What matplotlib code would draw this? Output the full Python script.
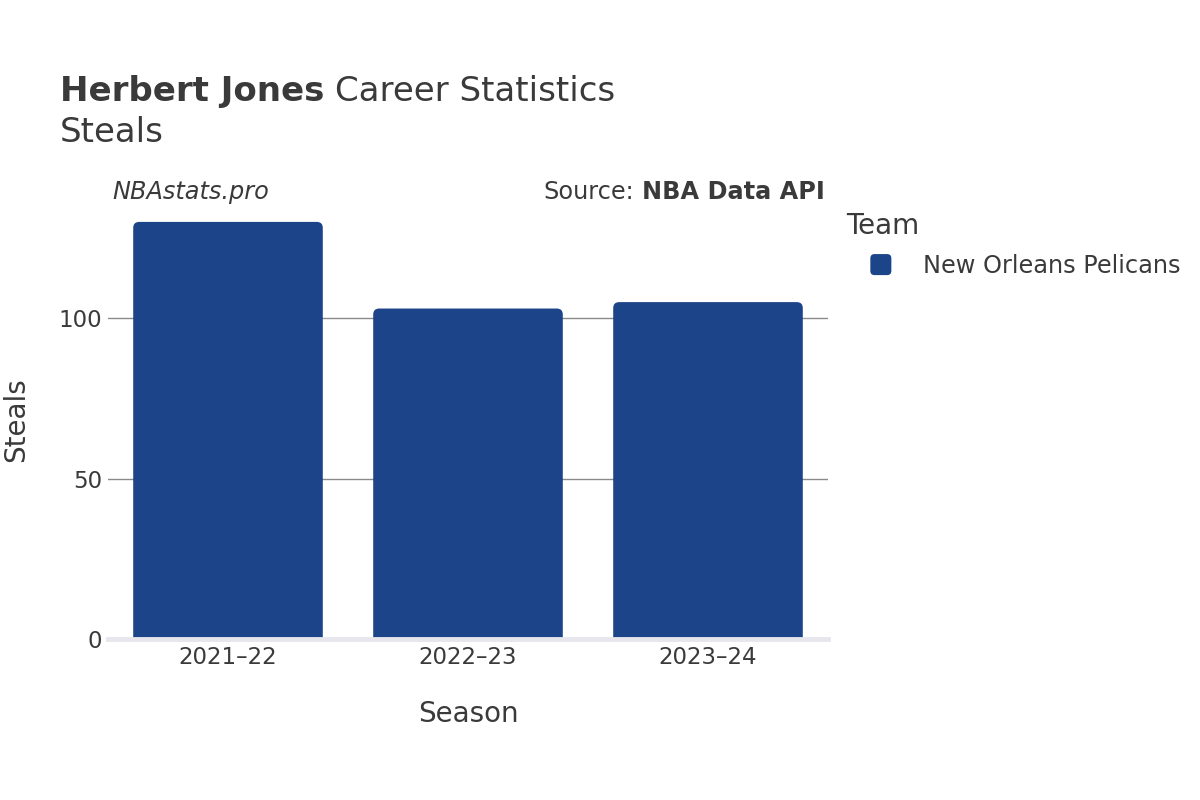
import matplotlib
matplotlib.use("Agg")
import matplotlib.pyplot as plt
from matplotlib.patches import FancyBboxPatch
from matplotlib.legend_handler import HandlerPatch
from matplotlib.patches import Patch

seasons = ["2021–22", "2022–23", "2023–24"]
steals = [130, 103, 105]
team = "New Orleans Pelicans"
bar_color = "#1c4488"
text_color = "#3a3a3a"

plt.rcParams["font.family"] = ["DejaVu Sans"]

fig = plt.figure(figsize=(12, 8), dpi=100)
ax = fig.add_axes([0.09, 0.20125, 0.60, 0.54875])

x = list(range(len(seasons)))
ax.set_xlim(-0.5, len(seasons) - 0.5)
ymax = max(steals) * 1.0525
ax.set_ylim(0, ymax)

# rounded bars: corner radius in px converted to data units
px_x = 1 / 240.0
px_y = ymax / 439.0
width = 0.79
for xi, v in zip(x, steals):
    p = FancyBboxPatch((xi - width / 2, -4 * px_y), width, v + 4 * px_y,
                       boxstyle="round,pad=0,rounding_size=%f" % (6 * px_x),
                       mutation_aspect=px_y / px_x,
                       facecolor=bar_color, edgecolor="none", zorder=3)
    ax.add_patch(p)

ax.set_yticks([0, 50, 100])
ax.yaxis.grid(True, color="#8a8a8a", linewidth=1)
ax.set_axisbelow(True)
ax.axhline(0, color="#e6e6ec", linewidth=3.5, zorder=4, clip_on=False)
for s in ax.spines.values():
    s.set_visible(False)
ax.tick_params(length=0, labelsize=16.5, labelcolor=text_color)
ax.tick_params(axis="y", pad=4)
ax.tick_params(axis="x", pad=5)
ax.set_xticks(x)
ax.set_xticklabels(seasons)

ax.set_xlabel("Season", fontsize=20, color=text_color, labelpad=22)
ax.set_ylabel("Steals", fontsize=20, color=text_color, labelpad=21)

renderer = fig.canvas.get_renderer()

t1 = fig.text(0.05, 0.886, "Herbert Jones", fontsize=24.5, fontweight="bold",
              color=text_color, va="center")
bb = t1.get_window_extent(renderer)
fig.text((bb.x1 + 11) / 1200, 0.886, "Career Statistics", fontsize=24.5,
         color=text_color, va="center")
fig.text(0.05, 0.834, "Steals", fontsize=24.5, color=text_color, va="center")

fig.text(0.094, 0.76, "NBAstats.pro", fontsize=17.3, style="italic",
         color=text_color, va="center")
t2 = fig.text(0.687, 0.76, "NBA Data API", fontsize=17.3, fontweight="bold",
              color=text_color, va="center", ha="right")
bb = t2.get_window_extent(renderer)
fig.text((bb.x0 - 8) / 1200, 0.76, "Source:", fontsize=17.3, color=text_color,
         va="center", ha="right")


class RoundSquare(HandlerPatch):
    def create_artists(self, legend, orig_handle, xdescent, ydescent,
                       width, height, fontsize, trans):
        s = min(width, height) * 1.25
        p = FancyBboxPatch((width / 2 - s / 2 - xdescent, height / 2 - s / 2 - ydescent), s, s,
                           boxstyle="round,pad=0,rounding_size=%f" % (s * 0.2),
                           facecolor=bar_color, edgecolor="none", transform=trans)
        return [p]


fig.text(846 / 1200, 1 - 226 / 800, "Team", fontsize=20, color=text_color, va="center")
handle = Patch(facecolor=bar_color)
leg = fig.legend([handle], [team], loc="center left",
                 bbox_to_anchor=(0.704, 1 - 266 / 800), frameon=False,
                 fontsize=17.3, handletextpad=1.15,
                 handlelength=1.2, labelcolor=text_color,
                 handler_map={Patch: RoundSquare()})

fig.savefig("out.png", dpi=100, facecolor="white")
